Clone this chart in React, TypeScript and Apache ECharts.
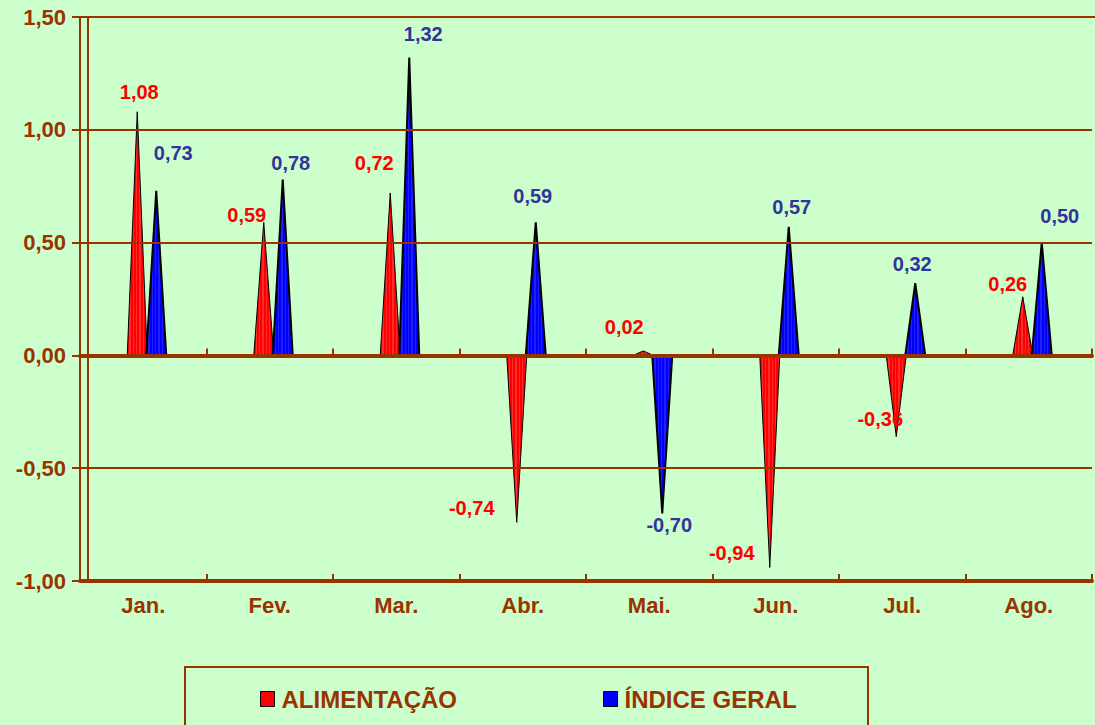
import React, { useEffect, useRef } from "react";
import * as echarts from "echarts";

const categories = ["Jan.", "Fev.", "Mar.", "Abr.", "Mai.", "Jun.", "Jul.", "Ago."];
const alimentacao = [1.08, 0.59, 0.72, -0.74, 0.02, -0.94, -0.36, 0.26];
const indiceGeral = [0.73, 0.78, 1.32, 0.59, -0.7, 0.57, 0.32, 0.5];
const seriesNames = ["ALIMENTAÇÃO", "ÍNDICE GERAL"];

// label placement relative to the triangle tip (dx, dy) in px
const alimLabelOffsets = [[2, -20], [-17, -7], [-16, -30], [-45, -14], [-19, -24], [-38, -14], [-16, -18], [-15, -13]];
const indiceLabelOffsets = [[17, -38], [8, -16], [14, -24], [-3, -26], [7, 12], [3, -20], [-3, -19], [18, -27]];

const BROWN = "#993300";
const BG = "#CCFFCC";
const FONT = 'Arial, "Liberation Sans", sans-serif';

const fmt = (v: number) => v.toFixed(2).replace(".", ",");

function stripes(c1: string, c2: string) {
  const stops: any[] = [];
  const n = 6;
  for (let i = 0; i < n; i++) {
    const a = i / n;
    const b = (i + 0.6) / n;
    const c = (i + 1) / n;
    stops.push({ offset: a, color: c1 }, { offset: b, color: c1 }, { offset: b, color: c2 }, { offset: c, color: c2 });
  }
  return { type: "linear", x: 0, y: 0, x2: 1, y2: 0, colorStops: stops };
}

function makeSeries(name: string, values: number[], offs: number[][], xOff: number, fill: any, color: string, labelColor: string, lw: number) {
  return {
    type: "custom",
    name,
    xAxisIndex: 0,
    yAxisIndex: 0,
    z: 2,
    itemStyle: { color },
    data: values.map((v, i) => [i, v]),
    renderItem: (params: any, api: any) => {
      const i = api.value(0);
      const v = api.value(1);
      const base = api.coord([i, 0]);
      const tip = api.coord([i, v]);
      const x = base[0] + xOff;
      const o = offs[i];
      return {
        type: "group",
        children: [
          {
            type: "polygon",
            shape: { points: [[x - 10, base[1]], [x + 10, base[1]], [x, tip[1]]] },
            style: { fill, stroke: "#000", lineWidth: lw, lineJoin: "miter" },
          },
          {
            type: "text",
            style: {
              text: fmt(v),
              x: x + o[0],
              y: tip[1] + o[1],
              align: "center",
              verticalAlign: "middle",
              fill: labelColor,
              font: `bold 20px ${FONT}`,
            },
          },
        ],
      };
    },
  };
}

export default function App() {
  const ref = useRef<HTMLDivElement>(null);
  useEffect(() => {
    document.body.style.margin = "0";
    document.body.style.background = BG;
    const chart = echarts.init(ref.current!, null, { renderer: "svg" });
    const axisLabelStyle = { color: BROWN, fontWeight: "bold", fontFamily: FONT };
    chart.setOption({
      animation: false,
      backgroundColor: BG,
      textStyle: { fontFamily: FONT },
      grid: { left: 80, right: 3, top: 17, bottom: 144, containLabel: false },
      xAxis: [
        {
          type: "category",
          data: categories,
          position: "bottom",
          z: 3,
          axisLine: { onZero: false, lineStyle: { color: BROWN, width: 4 } },
          axisTick: { show: true, inside: true, length: 7, lineStyle: { color: BROWN, width: 2 } },
          axisLabel: { ...axisLabelStyle, fontSize: 22, margin: 13 },
          splitLine: { show: false },
        },
        {
          type: "category",
          data: categories,
          position: "top",
          z: 3,
          axisLine: { onZero: true, lineStyle: { color: BROWN, width: 4 } },
          axisTick: { show: true, inside: false, length: 7, lineStyle: { color: BROWN, width: 2 } },
          axisLabel: { show: false },
          splitLine: { show: false },
        },
      ],
      yAxis: {
        type: "value",
        min: -1,
        max: 1.5,
        interval: 0.5,
        z: 3,
        axisLine: { show: true, lineStyle: { color: BROWN, width: 2 } },
        axisTick: { show: true, inside: false, length: 8, lineStyle: { color: BROWN, width: 2 } },
        axisLabel: { ...axisLabelStyle, fontSize: 22, margin: 14, formatter: (v: number) => fmt(v) },
        splitLine: { show: true, lineStyle: { color: BROWN, width: 2 } },
      },
      legend: {
        data: seriesNames,
        left: 255,
        top: 682,
        icon: "rect",
        itemWidth: 14,
        itemHeight: 15,
        itemGap: 146,
        itemStyle: { borderColor: "#000", borderWidth: 1 },
        textStyle: { color: BROWN, fontWeight: "bold", fontSize: 24, fontFamily: FONT, padding: [0, 0, 0, 2] },
        selectedMode: false,
      },
      graphic: [
        {
          type: "line",
          shape: { x1: 88, y1: 17, x2: 88, y2: 581 },
          style: { stroke: BROWN, lineWidth: 2 },
          z: 5,
        },
        {
          type: "line",
          shape: { x1: 1092, y1: 17, x2: 1095, y2: 17 },
          style: { stroke: BROWN, lineWidth: 2 },
          z: 5,
        },
        {
          type: "rect",
          shape: { x: 185, y: 667, width: 683, height: 80 },
          style: { fill: "none", stroke: BROWN, lineWidth: 2 },
          z: 1,
        },
      ],
      series: [
        makeSeries(seriesNames[0], alimentacao, alimLabelOffsets, -6, stripes("#FF0000", "#FF2A2A"), "#FF0000", "#FF0000", 1),
        makeSeries(seriesNames[1], indiceGeral, indiceLabelOffsets, 13, stripes("#0000FF", "#1E1EFF"), "#0000FF", "#333399", 2),
      ],
    });
    return () => chart.dispose();
  }, []);
  return (
    <div
      ref={ref}
      style={{ position: "absolute", left: 0, top: 0, width: 1095, height: 725, background: BG }}
    />
  );
}
